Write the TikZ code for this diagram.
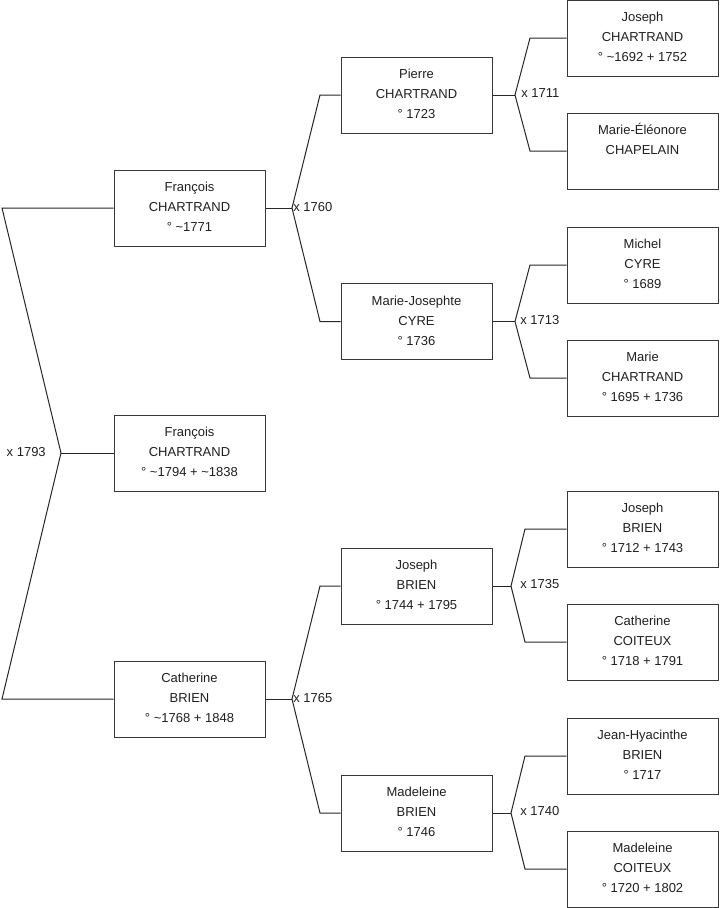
\documentclass[tikz,border=0pt]{standalone}
\usepackage{fontspec}
\setmainfont{Liberation Sans}
\newcommand{\ppline}[1]{\hbox to 113.25pt{\hss\strut#1\hss}}
\newcommand{\pp}[3]{\vbox to 57pt{\offinterlineskip\vskip5.75pt\ppline{#1}\ppline{#2}\ppline{#3}\vfil}}
\begin{document}
\begin{tikzpicture}[x=0.75pt,y=-0.75pt,
  person/.style={draw=black!78, line width=0.75pt, minimum width=113.25pt, minimum height=57pt,
    inner sep=0pt, font=\fontsize{9.75}{15}\selectfont, text=black!88},
  link/.style={draw=black!85, line width=0.75pt},
  marr/.style={font=\fontsize{9.75}{12}\selectfont, inner sep=0pt, text=black!88}]
\useasboundingbox (0,0) rectangle (719,908);

% generation 1
\node[person] (fa)   at (189.5,208) {\pp{François}{CHARTRAND}{° \textasciitilde1771}};
\node[person] (root) at (189.5,453) {\pp{François}{CHARTRAND}{° \textasciitilde1794 + \textasciitilde1838}};
\node[person] (mo)   at (189.5,699) {\pp{Catherine}{BRIEN}{° \textasciitilde1768 + 1848}};
% generation 2
\node[person] (ff) at (416.5,95)    {\pp{Pierre}{CHARTRAND}{° 1723}};
\node[person] (fm) at (416.5,321.5) {\pp{Marie-Josephte}{CYRE}{° 1736}};
\node[person] (mf) at (416.5,586)   {\pp{Joseph}{BRIEN}{° 1744 + 1795}};
\node[person] (mm) at (416.5,813)   {\pp{Madeleine}{BRIEN}{° 1746}};
% generation 3
\node[person] (fff) at (642.5,38)  {\pp{Joseph}{CHARTRAND}{° \textasciitilde1692 + 1752}};
\node[person] (ffm) at (642.5,151) {\pp{Marie-Éléonore}{CHAPELAIN}{}};
\node[person] (fmf) at (642.5,265) {\pp{Michel}{CYRE}{° 1689}};
\node[person] (fmm) at (642.5,378) {\pp{Marie}{CHARTRAND}{° 1695 + 1736}};
\node[person] (mff) at (642.5,529) {\pp{Joseph}{BRIEN}{° 1712 + 1743}};
\node[person] (mfm) at (642.5,642) {\pp{Catherine}{COITEUX}{° 1718 + 1791}};
\node[person] (mmf) at (642.5,756) {\pp{Jean-Hyacinthe}{BRIEN}{° 1717}};
\node[person] (mmm) at (642.5,869) {\pp{Madeleine}{COITEUX}{° 1720 + 1802}};

% fork 1793
\coordinate (j0) at (61,453); \coordinate (j0a) at (2,208); \coordinate (j0b) at (2,699);
\draw[link] (fa.west) -- (j0a) -- (j0) -- (j0b) -- (mo.west);
\draw[link] (j0) -- (root.west);
\node[marr, anchor=east] (m0) at (46,452) {x 1793};

% fork 1760
\coordinate (j1) at (292,208); \coordinate (j1a) at (320,95); \coordinate (j1b) at (320,321.5);
\draw[link] (fa.east) -- (j1);
\draw[link] (ff.west) -- (j1a) -- (j1) -- (j1b) -- (fm.west);
\node[marr, anchor=west] (m1) at (293,207) {x 1760};

% fork 1765
\coordinate (j2) at (292,699); \coordinate (j2a) at (320,586); \coordinate (j2b) at (320,813);
\draw[link] (mo.east) -- (j2);
\draw[link] (mf.west) -- (j2a) -- (j2) -- (j2b) -- (mm.west);
\node[marr, anchor=west] (m2) at (293,698) {x 1765};

% fork 1711
\coordinate (j3) at (515,95); \coordinate (j3a) at (530,38); \coordinate (j3b) at (530,151);
\draw[link] (ff.east) -- (j3);
\draw[link] (fff.west) -- (j3a) -- (j3) -- (j3b) -- (ffm.west);
\node[marr, anchor=west] (m3) at (521,93) {x 1711};

% fork 1713
\coordinate (j4) at (515,321.5); \coordinate (j4a) at (530,265); \coordinate (j4b) at (530,378);
\draw[link] (fm.east) -- (j4);
\draw[link] (fmf.west) -- (j4a) -- (j4) -- (j4b) -- (fmm.west);
\node[marr, anchor=west] (m4) at (520,320) {x 1713};

% fork 1735
\coordinate (j5) at (511,586); \coordinate (j5a) at (525,529); \coordinate (j5b) at (525,642);
\draw[link] (mf.east) -- (j5);
\draw[link] (mff.west) -- (j5a) -- (j5) -- (j5b) -- (mfm.west);
\node[marr, anchor=west] (m5) at (520,584) {x 1735};

% fork 1740
\coordinate (j6) at (511,813); \coordinate (j6a) at (525,756); \coordinate (j6b) at (525,869);
\draw[link] (mm.east) -- (j6);
\draw[link] (mmf.west) -- (j6a) -- (j6) -- (j6b) -- (mmm.west);
\node[marr, anchor=west] (m6) at (520,811) {x 1740};
\end{tikzpicture}
\end{document}
